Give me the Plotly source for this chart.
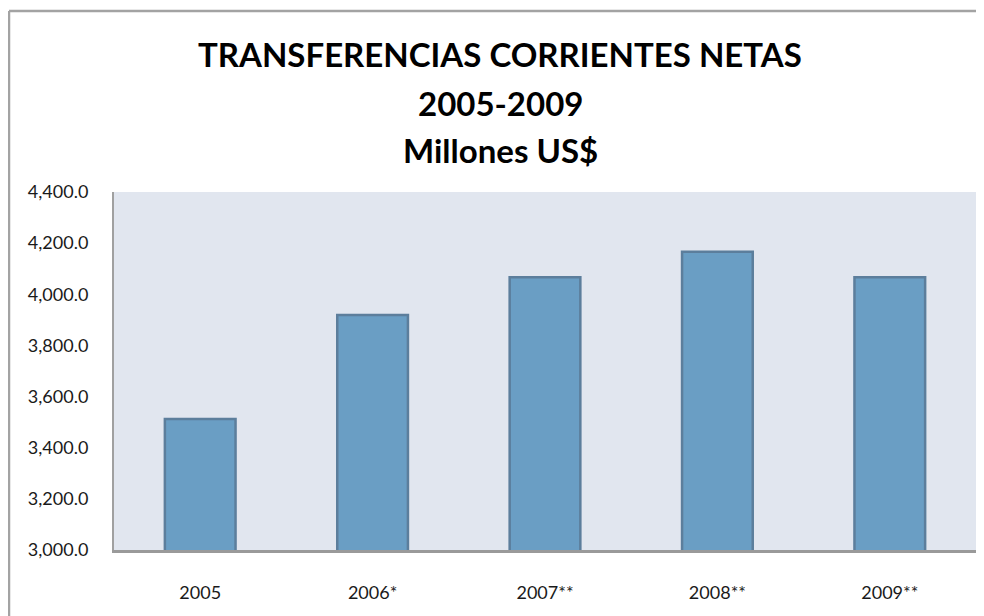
import plotly.graph_objects as go

categories = ["2005", "2006*", "2007**", "2008**", "2009**"]
values = [3512.0, 3919.0, 4067.0, 4166.0, 4067.0]
y_ticks = [3000, 3200, 3400, 3600, 3800, 4000, 4200, 4400]
title_lines = ["TRANSFERENCIAS CORRIENTES NETAS", "2005-2009", "Millones US$"]

# page is offset by the 8px body margin
OFF = 8
W, H = 976, 608
L, R, T, B = 114 - OFF, 8, 192 - OFF, 66
ph = H - T - B
pw = W - L - R

def py(y):  # page pixel -> paper
    return (H - B - (y - OFF)) / ph

def px(x):
    return ((x - OFF) - L) / pw

fig = go.Figure()
fig.add_trace(go.Bar(
    x=categories, y=values,
    marker=dict(color="#6a9ec4", line=dict(color="#5c7e9c", width=2.5)),
    width=0.41,
))

annotations = []
for line, yc in zip(title_lines, [54, 103, 150]):
    annotations.append(dict(
        text=f"<b>{line}</b>", x=px(500), y=py(yc), xref="paper", yref="paper",
        showarrow=False, xanchor="center", yanchor="middle",
        font=dict(family="Lato", size=33, color="#000000"),
    ))

border = dict(color="#a3a3a3", width=2.5)
fig.update_layout(
    width=W, height=H,
    margin=dict(l=L, r=R, t=T, b=B, pad=0),
    paper_bgcolor="white",
    plot_bgcolor="#e1e6ef",
    showlegend=False,
    annotations=annotations,
    shapes=[
        dict(type="line", xref="paper", yref="paper",
             x0=px(9), x1=px(984), y0=py(11), y1=py(11), line=border, layer="below"),
        dict(type="line", xref="paper", yref="paper",
             x0=px(9), x1=px(9), y0=py(11), y1=py(616), line=border, layer="below"),
    ],
    font=dict(family="Lato", size=18, color="#1a1a1a"),
)
fig.update_xaxes(
    showline=True, linecolor="#9a9a9a", linewidth=3,
    ticks="", ticklabelstandoff=24, showgrid=False,
    tickfont=dict(family="Lato", size=18, color="#1a1a1a"),
)
fig.update_yaxes(
    range=[3000, 4400], tickvals=y_ticks, tickformat=",.1f",
    showline=True, linecolor="#a0a0a0", linewidth=2,
    ticks="", ticklabelstandoff=20, showgrid=False, zeroline=False,
    tickfont=dict(family="Lato", size=18, color="#1a1a1a"),
)

fig.write_html("out.html")
